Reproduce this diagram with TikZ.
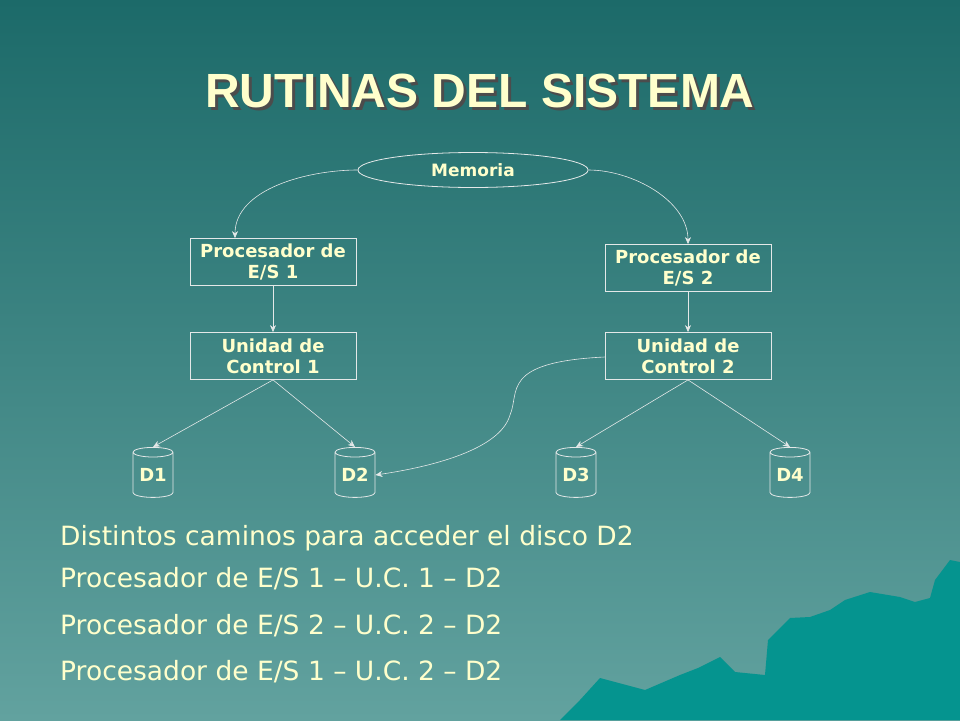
\documentclass[tikz,border=0pt]{standalone}
\usepackage{fontspec}
\setmainfont{DejaVu Sans}
\newfontfamily\titlefont{Liberation Sans}
\usetikzlibrary{shapes.geometric,arrows.meta}
\definecolor{bgtop}{HTML}{1C6A69}
\definecolor{bgbot}{HTML}{62A29F}
\definecolor{cream}{HTML}{FFFFCC}
\definecolor{mount}{HTML}{05948F}
\definecolor{lin}{HTML}{E4E8E8}
\tikzset{
 box/.style={draw=lin,line width=0.8pt,minimum width=166pt,minimum height=47pt,align=center,text=cream,font=\bfseries\fontsize{18}{21}\selectfont,inner sep=0pt},
 disk/.style={cylinder,shape border rotate=90,draw=lin,line width=0.8pt,minimum width=40pt,minimum height=50pt,aspect=0.35,text=cream,font=\bfseries\fontsize{18}{18}\selectfont,inner sep=0pt},
 conn/.style={draw=lin,line width=0.6pt,-{Stealth[length=7pt,width=6pt]}},
 body/.style={text=cream,font=\fontsize{26.5}{30}\selectfont,anchor=base west,inner sep=0pt}
}
\begin{document}
\begin{tikzpicture}[x=1pt,y=-1pt]
\useasboundingbox (0,0) rectangle (960,720);
\shade[top color=bgtop,bottom color=bgbot] (0,0) rectangle (960,720);
\fill[mount] (560,720) -- (580,700) -- (600,678) -- (645,690) -- (680,675) -- (698,668) -- (720,657) -- (735,672) -- (765,675) -- (768,640) -- (790,618) -- (810,617) -- (830,610) -- (845,600) -- (870,592) -- (900,597) -- (915,602) -- (930,598) -- (935,580) -- (950,560) -- (960,562) -- (960,720) -- cycle;
\node[anchor=base,text=black!70,font=\titlefont\bfseries\fontsize{48}{56}\selectfont] (shadow) at (483,110) {RUTINAS DEL SISTEMA};
\node[anchor=base,text=cream,font=\titlefont\bfseries\fontsize{48}{56}\selectfont] (title) at (480,107) {RUTINAS DEL SISTEMA};
\node[ellipse,draw=lin,line width=0.8pt,minimum width=230pt,minimum height=35pt,inner sep=0pt,text=cream,font=\bfseries\fontsize{17}{18}\selectfont] (mem) at (473,170) {Memoria};
\node[box] (p1) at (273,262) {Procesador de\\E/S 1};
\node[box] (p2) at (688,268) {Procesador de\\E/S 2};
\node[box] (u1) at (273,356) {Unidad de\\Control 1};
\node[box] (u2) at (688,356) {Unidad de\\Control 2};
\node[disk] (d1) at (153,475) {D1};
\node[disk] (d2) at (355,475) {D2};
\node[disk] (d3) at (576,475) {D3};
\node[disk] (d4) at (790,475) {D4};
\draw[conn] (mem.west) to[out=180,in=90,looseness=0.9] ([xshift=-38pt]p1.north);
\draw[conn] (mem.east) to[out=0,in=90,looseness=0.9] (p2.north);
\draw[conn] (p1) -- (u1);
\draw[conn] (p2) -- (u2);
\draw[conn] (u1.south) -- (d1.north);
\draw[conn] (u1.south) -- (d2.north);
\draw[conn] (u2.south) -- (d3.north);
\draw[conn] (u2.south) -- (d4.north);
\draw[conn] ([yshift=-1pt]u2.west) .. controls (500,362) and (520,392) .. (510,415) .. controls (500,450) and (430,467) .. (d2.east);
\node[body] (t1) at (60,545) {Distintos caminos para acceder el disco D2};
\node[body] (t2) at (60,587) {Procesador de E/S 1 – U.C. 1 – D2};
\node[body] (t3) at (60,634) {Procesador de E/S 2 – U.C. 2 – D2};
\node[body] (t4) at (60,680) {Procesador de E/S 1 – U.C. 2 – D2};
\end{tikzpicture}
\end{document}
